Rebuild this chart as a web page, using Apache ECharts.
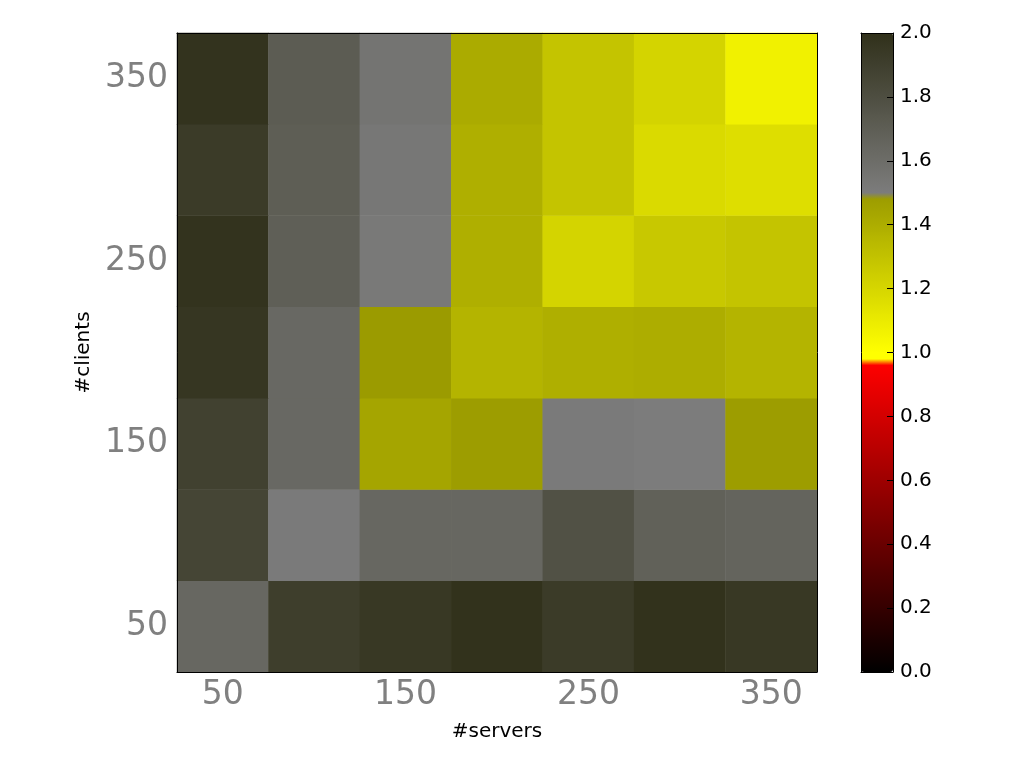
<!DOCTYPE html>
<html>
<head>
<meta charset="utf-8">
<script src="https://cdn.jsdelivr.net/npm/echarts@6/dist/echarts.min.js"></script>
<style>
  html, body { margin: 0; padding: 0; background: #fff; }
  #chart { width: 1017px; height: 763px; }
</style>
</head>
<body>
<div id="chart"></div>
<script>
// axis categories
const servers = ['50', '100', '150', '200', '250', '300', '350'];
const clients = ['50', '100', '150', '200', '250', '300', '350'];

// one row per client count (bottom 50 -> top 350), one value per server count
const row50  = [1.64, 1.91, 1.95, 1.99, 1.93, 1.99, 1.95];
const row100 = [1.86, 1.51, 1.64, 1.64, 1.78, 1.68, 1.66];
const row150 = [1.89, 1.63, 1.44, 1.48, 1.51, 1.50, 1.48];
const row200 = [1.96, 1.63, 1.49, 1.37, 1.39, 1.40, 1.37];
const row250 = [1.98, 1.69, 1.52, 1.39, 1.21, 1.27, 1.29];
const row300 = [1.93, 1.70, 1.53, 1.39, 1.29, 1.18, 1.16];
const row350 = [1.98, 1.71, 1.55, 1.41, 1.29, 1.21, 1.07];
const rows = [row50, row100, row150, row200, row250, row300, row350];

// colorbar ticks
const cbarMin = 0;
const cbarMax = 2;
const cbarStep = 0.2;

// colormap: black->red, yellow->olive, gray->dark
function cmap(v) {
  let r, g, b;
  if (v < 0.967) {
    r = 255 * v / 0.967; g = 0; b = 0;
  } else if (v < 1.5) {
    r = g = Math.min(255, 255 - (v - 1) * 204); b = 0;
  } else {
    const t = (v - 1.5) / 0.5;
    r = g = 124 - t * 76; b = 124 - t * 98;
  }
  return 'rgb(' + Math.round(r) + ',' + Math.round(g) + ',' + Math.round(b) + ')';
}
const colorStops = [];
for (let i = 0; i <= 400; i++) colorStops.push(cmap(cbarMin + (cbarMax - cbarMin) * i / 400));

const data = [];
rows.forEach((row, yi) => {
  row.forEach((v, xi) => data.push([xi, yi, v]));
});

const chart = echarts.init(document.getElementById('chart'));
const font = 'DejaVu Sans';
const catLabel = { interval: 1, fontSize: 33, color: '#808080', fontFamily: font };
const catTick = { interval: 1, inside: true, alignWithLabel: true, length: 6, lineStyle: { color: '#000' } };
const line = { show: true, onZero: false, lineStyle: { color: '#000', width: 1 } };

chart.setOption({
  animation: false,
  grid: [
    { left: 177, top: 33, width: 640, height: 639 },
    { left: 861, top: 33, width: 32, height: 639 }
  ],
  xAxis: [
    {
      type: 'category', data: servers, gridIndex: 0, position: 'bottom',
      axisLine: line, axisTick: catTick, axisLabel: Object.assign({ margin: 7 }, catLabel),
      name: '#servers', nameLocation: 'middle', nameGap: 50,
      nameTextStyle: { fontSize: 20, color: '#000', fontFamily: font },
      splitLine: { show: false }, z: 10
    },
    {
      type: 'category', data: servers, gridIndex: 0, position: 'top',
      axisLine: line, axisTick: catTick, axisLabel: { show: false },
      splitLine: { show: false }, z: 10
    },
    {
      type: 'value', gridIndex: 1, min: 0, max: 1, position: 'bottom',
      axisLine: line, axisTick: { show: false }, axisLabel: { show: false },
      splitLine: { show: false }, z: 10
    },
    {
      type: 'value', gridIndex: 1, min: 0, max: 1, position: 'top',
      axisLine: line, axisTick: { show: false }, axisLabel: { show: false },
      splitLine: { show: false }, z: 10
    }
  ],
  yAxis: [
    {
      type: 'category', data: clients, gridIndex: 0, position: 'left',
      axisLine: line, axisTick: catTick, axisLabel: Object.assign({ margin: 9 }, catLabel),
      name: '#clients', nameLocation: 'middle', nameGap: 81, nameRotate: 90,
      nameTextStyle: { fontSize: 20, color: '#000', fontFamily: font },
      splitLine: { show: false }, z: 10
    },
    {
      type: 'category', data: clients, gridIndex: 0, position: 'right',
      axisLine: line, axisTick: catTick, axisLabel: { show: false },
      splitLine: { show: false }, z: 10
    },
    {
      type: 'value', gridIndex: 1, min: cbarMin, max: cbarMax, interval: cbarStep, position: 'right',
      axisLine: line,
      axisTick: { show: true, inside: true, length: 6, lineStyle: { color: '#000' } },
      axisLabel: { fontSize: 20, color: '#000', fontFamily: font, margin: 7, formatter: v => v.toFixed(1) },
      splitLine: { show: false }, z: 10
    },
    {
      type: 'value', gridIndex: 1, min: cbarMin, max: cbarMax, position: 'left',
      axisLine: line, axisTick: { show: false }, axisLabel: { show: false },
      splitLine: { show: false }, z: 10
    }
  ],
  visualMap: {
    type: 'continuous',
    min: cbarMin, max: cbarMax,
    seriesIndex: 0, dimension: 2,
    calculable: false, hoverLink: false,
    orient: 'vertical',
    left: 861, top: 33,
    itemWidth: 32, itemHeight: 639,
    padding: 0,
    text: null, showLabel: false,
    inRange: { color: colorStops }
  },
  series: [{
    type: 'heatmap',
    xAxisIndex: 0, yAxisIndex: 0,
    data: data,
    emphasis: { disabled: true },
    itemStyle: { borderWidth: 0 }
  }]
});
</script>
</body>
</html>
